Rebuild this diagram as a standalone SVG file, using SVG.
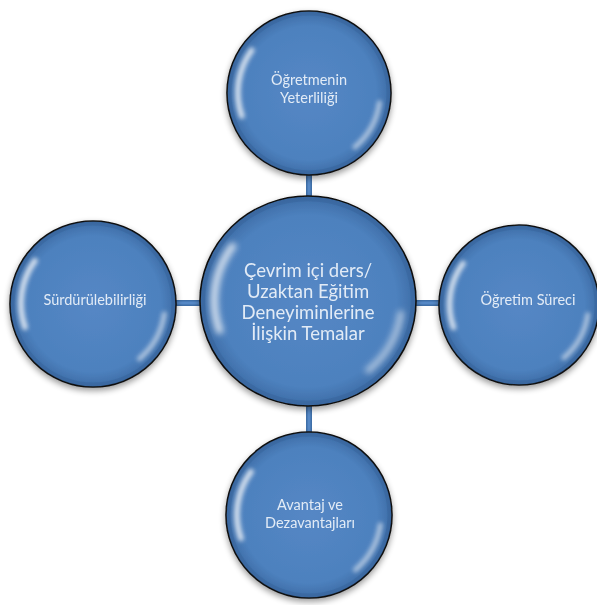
<svg xmlns="http://www.w3.org/2000/svg" width="597" height="605" viewBox="0 0 597 605">
<defs>
<radialGradient id="fill" cx="0.5" cy="0.5" r="0.5">
<stop offset="0" stop-color="#5587c5"/>
<stop offset="0.82" stop-color="#4d81be"/>
<stop offset="1" stop-color="#3d6ca6"/>
</radialGradient>
<filter id="shadow" x="-20%" y="-20%" width="140%" height="150%">
<feGaussianBlur in="SourceAlpha" stdDeviation="3"/>
<feOffset dy="3" result="b"/>
<feComponentTransfer><feFuncA type="linear" slope="0.4"/></feComponentTransfer>
<feMerge><feMergeNode/><feMergeNode in="SourceGraphic"/></feMerge>
</filter>
<filter id="soft" x="-50%" y="-50%" width="200%" height="200%">
<feGaussianBlur stdDeviation="2.8"/>
</filter>
<g id="bubble">
<circle r="100" fill="url(#fill)" stroke="#111" stroke-width="1.6" vector-effect="non-scaling-stroke"/>
<circle r="97" fill="none" stroke="#2e5a8e" stroke-opacity="0.3" stroke-width="4" vector-effect="non-scaling-stroke"/>
<path d="M -70 -52 A 87 87 0 0 0 -82 28" fill="none" stroke="#ffffff" stroke-opacity="0.75" stroke-width="7" stroke-linecap="round" filter="url(#soft)"/>
<path d="M 86 12 A 87 87 0 0 1 56 66" fill="none" stroke="#ffffff" stroke-opacity="0.55" stroke-width="6" stroke-linecap="round" filter="url(#soft)"/>
</g>
</defs>
<style>
text{font-family:Lato,"Liberation Sans",sans-serif;fill:#e2ebf6;text-anchor:middle}
.small{font-size:14.5px}
.big{font-size:18.5px}
.conn{stroke:#3f6fa8;stroke-width:6;fill:none}
.conn2{stroke:#5588c6;stroke-width:3;fill:none}
</style>
<g id="connectors">
<line class="conn" x1="309" y1="170" x2="309" y2="436"/>
<line class="conn" x1="172" y1="303" x2="444" y2="303"/>
<line class="conn2" x1="309" y1="170" x2="309" y2="436"/>
<line class="conn2" x1="172" y1="303" x2="444" y2="303"/>
</g>
<g id="node-top" filter="url(#shadow)">
<use href="#bubble" transform="translate(309,93) scale(0.82)"/>
<text class="small" x="309" y="85">Öğretmenin</text>
<text class="small" x="309" y="103">Yeterliliği</text>
</g>
<g id="node-left" filter="url(#shadow)">
<use href="#bubble" transform="translate(93,304) scale(0.83)"/>
<text class="small" x="95" y="305">Sürdürülebilirliği</text>
</g>
<g id="node-right" filter="url(#shadow)">
<use href="#bubble" transform="translate(519,305) scale(0.8)"/>
<text class="small" x="528" y="305">Öğretim Süreci</text>
</g>
<g id="node-bottom" filter="url(#shadow)">
<use href="#bubble" transform="translate(309,515) scale(0.83)"/>
<text class="small" x="310" y="510">Avantaj ve</text>
<text class="small" x="310" y="528">Dezavantajları</text>
</g>
<g id="node-center" filter="url(#shadow)">
<use href="#bubble" transform="translate(308,301) scale(1.08,1.05)"/>
<text class="big" x="308" y="277">Çevrim içi ders/</text>
<text class="big" x="308" y="298">Uzaktan Eğitim</text>
<text class="big" x="308" y="319">Deneyiminlerine</text>
<text class="big" x="308" y="340">İlişkin Temalar</text>
</g>
</svg>
